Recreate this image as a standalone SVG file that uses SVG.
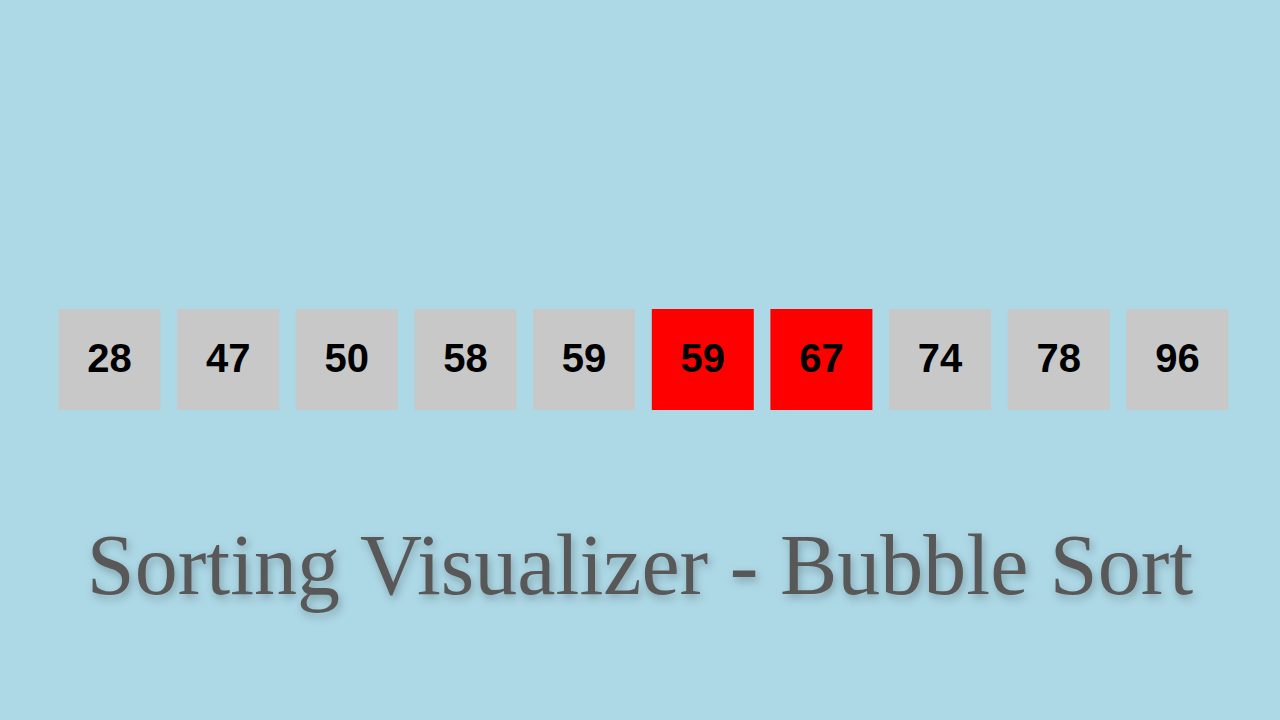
<svg xmlns="http://www.w3.org/2000/svg" width="1280" height="720" viewBox="0 0 1280 720">
  <defs>
    <filter id="shadow" x="-5%" y="-30%" width="110%" height="160%">
      <feDropShadow dx="2" dy="4" stdDeviation="4" flood-color="#000000" flood-opacity="0.25"/>
    </filter>
  </defs>
  <style>
    .box { fill: #c8c8c8; }
    .active { fill: #ff0000; }
    .num { font-family: "Liberation Sans", Arial, sans-serif; font-weight: bold; font-size: 40px; fill: #000000; text-anchor: middle; }
    .title { font-family: "Liberation Serif", "Times New Roman", serif; font-size: 86px; fill: #595959; text-anchor: middle; }
  </style>
  <rect x="0" y="0" width="1280" height="720" fill="#add8e6"/>
  <g id="bar-0"><rect class="box" x="58.5" y="309" width="102" height="101"/><text class="num" x="109.5" y="372">28</text></g>
  <g id="bar-1"><rect class="box" x="177.2" y="309" width="102" height="101"/><text class="num" x="228.2" y="372">47</text></g>
  <g id="bar-2"><rect class="box" x="295.8" y="309" width="102" height="101"/><text class="num" x="346.8" y="372">50</text></g>
  <g id="bar-3"><rect class="box" x="414.5" y="309" width="102" height="101"/><text class="num" x="465.5" y="372">58</text></g>
  <g id="bar-4"><rect class="box" x="533.1" y="309" width="102" height="101"/><text class="num" x="584.1" y="372">59</text></g>
  <g id="bar-5"><rect class="active" x="651.8" y="309" width="102" height="101"/><text class="num" x="702.8" y="372">59</text></g>
  <g id="bar-6"><rect class="active" x="770.4" y="309" width="102" height="101"/><text class="num" x="821.4" y="372">67</text></g>
  <g id="bar-7"><rect class="box" x="889.1" y="309" width="102" height="101"/><text class="num" x="940.1" y="372">74</text></g>
  <g id="bar-8"><rect class="box" x="1007.7" y="309" width="102" height="101"/><text class="num" x="1058.7" y="372">78</text></g>
  <g id="bar-9"><rect class="box" x="1126.4" y="309" width="102" height="101"/><text class="num" x="1177.4" y="372">96</text></g>
  <g id="title"><text class="title" x="640" y="594" filter="url(#shadow)">Sorting Visualizer - Bubble Sort</text></g>
</svg>
